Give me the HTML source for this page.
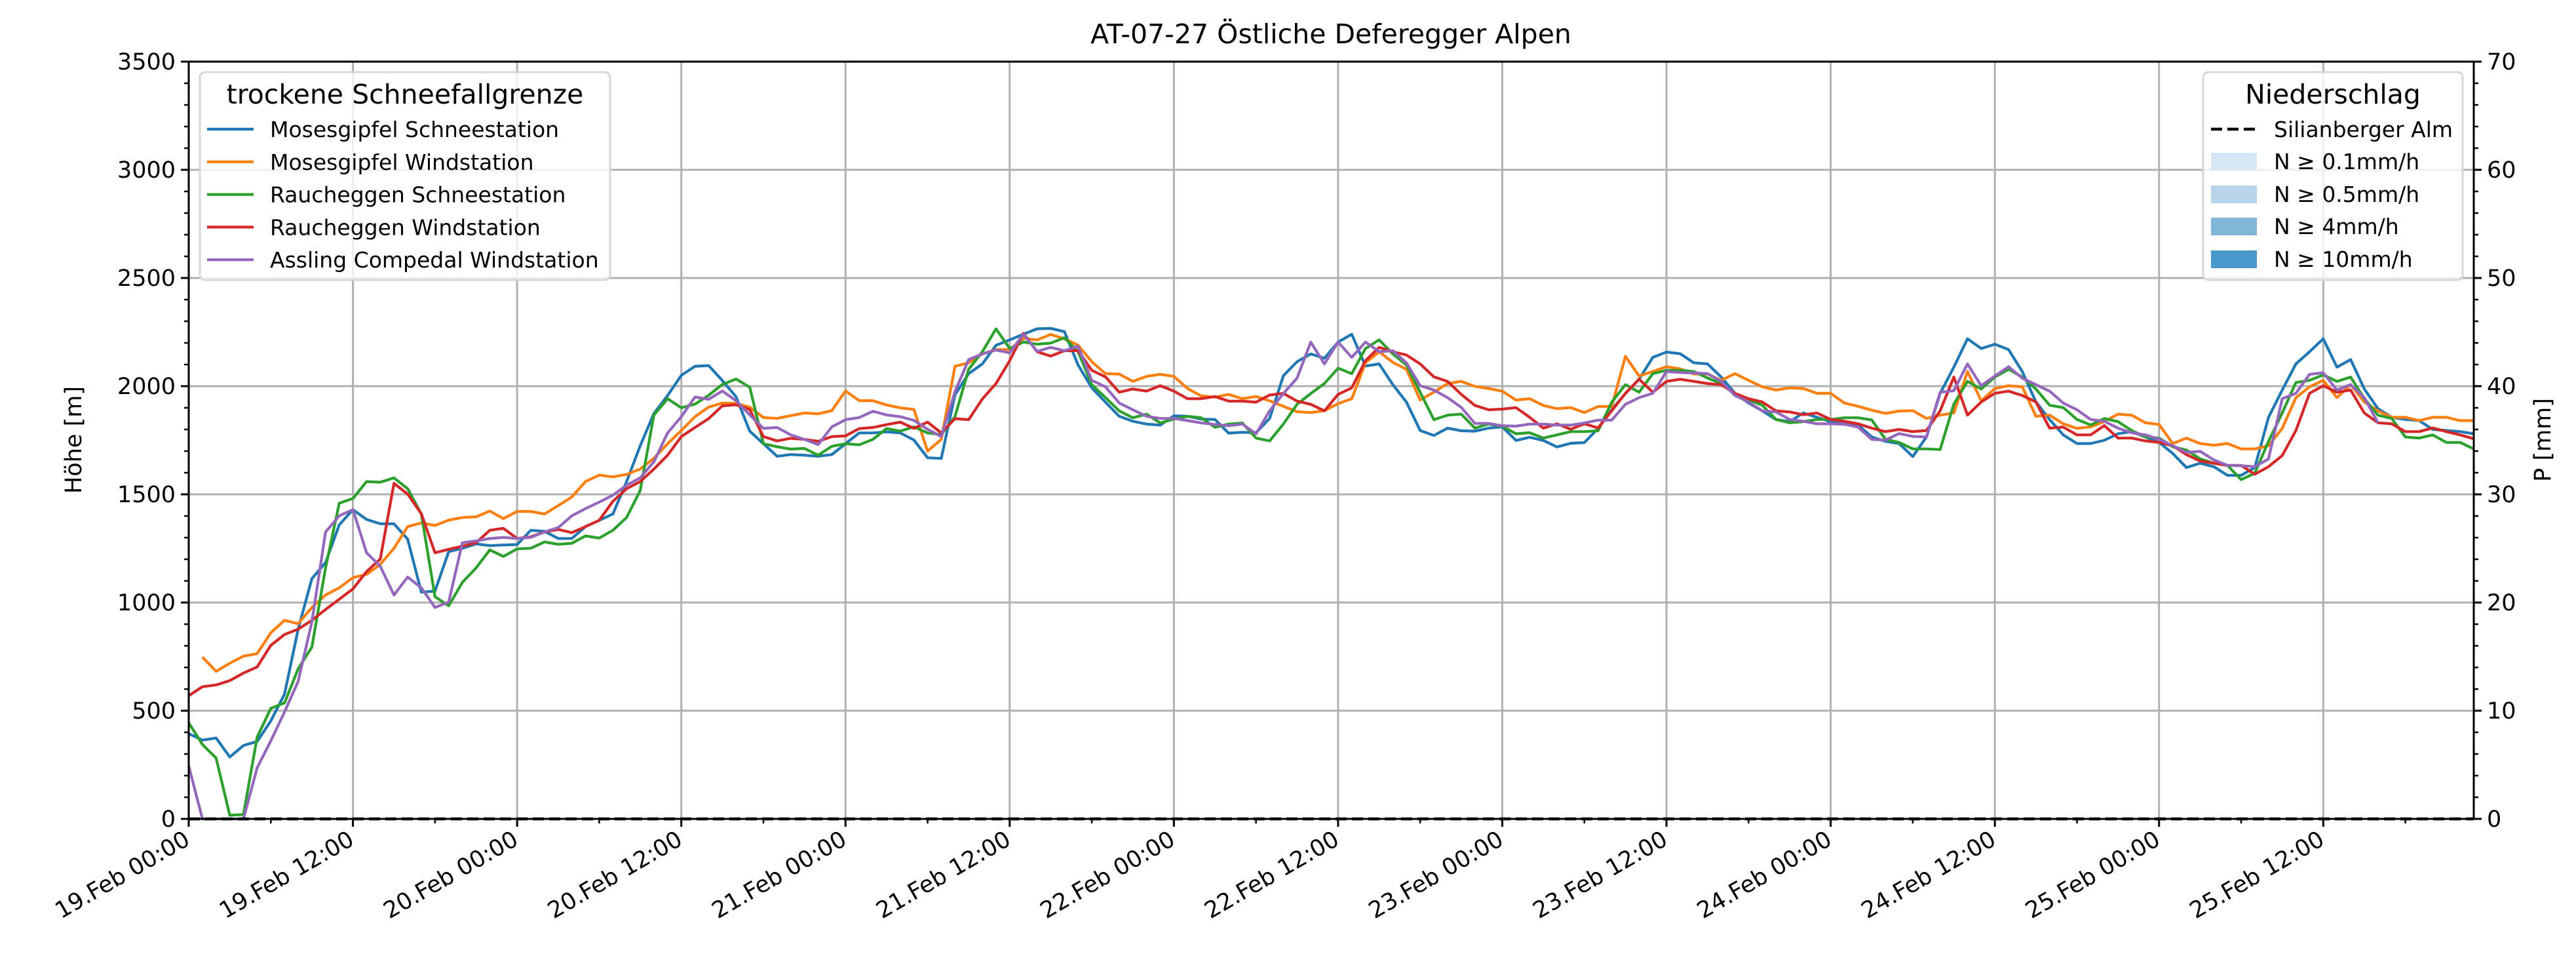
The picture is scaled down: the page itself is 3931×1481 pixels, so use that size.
<!DOCTYPE html>
<html><head><meta charset="utf-8"><style>
html,body{margin:0;padding:0;background:#fff;}
svg{display:block;font-family:"DejaVu Sans","Liberation Sans",sans-serif;}
</style></head><body>
<svg id="chart" width="3931" height="1481" viewBox="0 0 3931 1481" xmlns="http://www.w3.org/2000/svg">
<rect width="3931" height="1481" fill="#fff"/>
<g id="grid"></g>
<g id="series"></g>
<g id="axes"></g>
<text x="2031" y="66" font-size="41" text-anchor="middle">AT-07-27 Östliche Deferegger Alpen</text>
<text transform="translate(124,671) rotate(-90)" font-size="35" text-anchor="middle">Höhe [m]</text>
<text transform="translate(3892,671) rotate(-90)" font-size="35" text-anchor="middle">P [mm]</text>
<g>
<rect x="305" y="110" width="626" height="317" rx="8" fill="#fff" fill-opacity="0.8" stroke="#d6d6d6" stroke-width="3"/>
<text x="618" y="158" font-size="41" text-anchor="middle">trockene Schneefallgrenze</text>
<g id="leg1"></g>
</g>
<g>
<rect x="3362" y="110" width="396" height="317" rx="8" fill="#fff" fill-opacity="0.8" stroke="#d6d6d6" stroke-width="3"/>
<text x="3560" y="158" font-size="41" text-anchor="middle">Niederschlag</text>
<line x1="3374" y1="197" x2="3442" y2="197" stroke="#000" stroke-width="4.5" stroke-dasharray="17,8"/>
<text x="3470" y="209" font-size="33">Silianberger Alm</text>
<rect x="3374" y="233" width="70" height="27" fill="#d7e6f3"/>
<text x="3470" y="258" font-size="33">N ≥ 0.1mm/h</text>
<rect x="3374" y="283" width="70" height="27" fill="#b7d4ea"/>
<text x="3470" y="308" font-size="33">N ≥ 0.5mm/h</text>
<rect x="3374" y="332" width="70" height="27" fill="#81b6d8"/>
<text x="3470" y="357" font-size="33">N ≥ 4mm/h</text>
<rect x="3374" y="382" width="70" height="27" fill="#4a97c9"/>
<text x="3470" y="407" font-size="33">N ≥ 10mm/h</text>
</g>
</svg>
<script>
const seriesNames = ["Mosesgipfel Schneestation","Mosesgipfel Windstation","Raucheggen Schneestation","Raucheggen Windstation","Assling Compedal Windstation"];
const seriesColors = ["#1f77b4","#ff7f0e","#2ca02c","#d62728","#9467bd"];
const blue = [394,364,374,286,339,358,453,577,877,1110,1185,1359,1429,1384,1364,1364,1293,1048,1053,1235,1251,1271,1263,1266,1268,1334,1329,1296,1296,1351,1380,1409,1559,1725,1874,1957,2050,2092,2095,2026,1951,1792,1734,1676,1684,1681,1676,1684,1734,1784,1784,1789,1784,1751,1669,1666,1960,
2058,2103,2189,2214,2240,2265,2267,2252,2098,1992,1926,1861,1838,1825,1820,1863,1861,1848,1846,1783,1787,1785,1851,2048,2113,2149,2129,2204,2240,2093,2103,2007,1926,1795,1772,1806,1794,1792,1806,1812,1749,1764,1749,1719,1736,1739,1805,1891,1966,2032,2133,2158,2150,2108,2103,2042,
1967,1922,1886,1846,1836,1876,1856,1836,1828,1821,1765,1745,1735,1675,1765,1967,2088,2219,2174,2194,2169,2068,1927,1846,1775,1735,1735,1750,1780,1790,1765,1740,1689,1624,1644,1628,1588,1588,1624,1856,1982,2103,2159,2219,2088,2123,1987,1896,1856,1846,1841,1800,1795,1790,1780];
const orange = [null,748,682,719,752,764,860,918,902,977,1035,1068,1115,1130,1176,1251,1351,1368,1356,1381,1393,1396,1423,1388,1421,1421,1409,1448,1488,1559,1589,1581,1592,1617,1667,1734,1795,1859,1903,1922,1920,1903,1855,1851,1864,1876,1872,1887,1978,1933,1933,1913,1900,1892,1700,1754,2092,
2108,2149,2169,2169,2221,2214,2239,2219,2189,2113,2058,2056,2022,2045,2055,2045,1989,1955,1949,1962,1942,1952,1932,1907,1882,1878,1887,1919,1942,2108,2159,2110,2078,1936,1972,2012,2022,1999,1989,1977,1936,1942,1911,1896,1901,1878,1906,1906,2138,2047,2068,2090,2080,2056,2056,2027,
2058,2027,1997,1982,1992,1989,1967,1967,1922,1907,1889,1874,1885,1887,1851,1866,1876,2068,1932,1989,2002,1997,1861,1866,1826,1805,1812,1836,1871,1866,1831,1823,1735,1760,1735,1727,1735,1710,1710,1725,1805,1947,1997,2027,1947,2007,1927,1886,1856,1856,1841,1856,1856,1841,1841];
const green = [444,344,281,17,20,378,511,536,694,794,1160,1459,1481,1559,1556,1576,1526,1409,1027,985,1093,1160,1243,1213,1248,1251,1280,1269,1274,1308,1298,1334,1393,1518,1867,1942,1900,1917,1958,2008,2033,1995,1734,1720,1709,1712,1681,1722,1734,1729,1754,1804,1792,1812,1784,1776,1859,
2078,2159,2265,2174,2204,2194,2199,2224,2159,2007,1947,1886,1854,1871,1830,1848,1861,1854,1810,1825,1830,1760,1747,1825,1916,1966,2012,2083,2058,2174,2214,2149,2098,1972,1845,1866,1871,1806,1825,1815,1780,1785,1760,1775,1790,1790,1794,1926,2007,1972,2058,2073,2073,2068,2038,2012,
1962,1937,1912,1846,1831,1836,1846,1846,1854,1854,1844,1755,1740,1710,1710,1707,1917,2022,1987,2042,2078,2042,1987,1912,1901,1846,1821,1851,1836,1795,1765,1760,1720,1705,1664,1644,1634,1568,1598,1745,1876,2017,2027,2052,2022,2042,1942,1866,1851,1765,1760,1775,1740,1740,1710];
const red = [569,611,619,639,674,702,802,852,877,918,968,1015,1063,1143,1201,1551,1501,1410,1230,1246,1260,1276,1334,1343,1296,1304,1326,1338,1323,1351,1380,1468,1526,1559,1617,1681,1767,1809,1850,1909,1914,1892,1767,1747,1759,1754,1745,1767,1770,1804,1809,1822,1834,1805,1834,1784,1850,
1845,1941,2012,2118,2244,2159,2139,2164,2164,2073,2043,1972,1987,1977,2002,1977,1942,1942,1952,1931,1931,1926,1959,1967,1931,1916,1886,1962,1992,2118,2179,2159,2144,2103,2043,2022,1962,1911,1891,1894,1901,1856,1806,1826,1801,1826,1807,1886,1967,2032,1972,2022,2032,2022,2012,2007,
1967,1942,1927,1886,1881,1868,1876,1846,1838,1826,1806,1790,1800,1790,1795,1886,2042,1866,1927,1967,1977,1957,1927,1806,1811,1775,1775,1818,1760,1760,1747,1740,1725,1684,1654,1644,1634,1634,1593,1628,1679,1795,1967,2002,1972,1982,1876,1831,1826,1790,1790,1807,1790,1775,1757];
const purple = [245,0,0,0,0,236,361,494,636,910,1326,1401,1429,1230,1168,1035,1118,1068,977,1002,1276,1285,1296,1301,1296,1301,1326,1346,1401,1434,1464,1496,1542,1576,1651,1784,1859,1950,1939,1978,1933,1867,1805,1809,1775,1754,1730,1812,1845,1855,1884,1867,1859,1842,1801,1767,1975,
2123,2149,2167,2154,2240,2161,2179,2164,2184,2027,1997,1922,1891,1861,1851,1851,1841,1830,1823,1817,1825,1780,1886,1966,2037,2204,2103,2204,2133,2204,2159,2164,2108,2002,1982,1947,1902,1828,1828,1817,1815,1825,1825,1820,1820,1830,1843,1843,1916,1947,1967,2068,2063,2061,2058,2022,
1957,1927,1886,1881,1846,1838,1826,1826,1824,1811,1754,1751,1781,1768,1765,1972,1979,2103,2002,2047,2090,2037,2007,1977,1922,1891,1846,1838,1806,1785,1775,1755,1725,1694,1699,1659,1634,1632,1628,1664,1942,1967,2055,2062,1982,2007,1947,1831];
const precip = [0,0,0,0,0,0,0,0,0,0,0,0,0,0,0,0,0,0,0,0,0,0,0,0,0,0,0,0];
const yTicks = [0,500,1000,1500,2000,2500,3000,3500];
const y2Ticks = [0,10,20,30,40,50,60,70];
const xTickLabels = ["19.Feb 00:00","19.Feb 12:00","20.Feb 00:00","20.Feb 12:00","21.Feb 00:00","21.Feb 12:00","22.Feb 00:00","22.Feb 12:00","23.Feb 00:00","23.Feb 12:00","24.Feb 00:00","24.Feb 12:00","25.Feb 00:00","25.Feb 12:00"];

const NS="http://www.w3.org/2000/svg";
const L=288,R=3775,T=94,B=1249,TMAX=167;
const xs=t=>L+(R-L)*t/TMAX;
const ys=v=>B-(B-T)*v/3500;
const y2s=v=>B-(B-T)*v/70;
function mk(tag,attrs,parent){const e=document.createElementNS(NS,tag);for(const k in attrs)e.setAttribute(k,attrs[k]);parent.appendChild(e);return e;}
const grid=document.getElementById('grid'),axes=document.getElementById('axes'),ser=document.getElementById('series');
yTicks.forEach(v=>{const g=mk('line',{x1:L,x2:R,y1:ys(v),y2:ys(v),stroke:'#b0b0b0','stroke-width':3},grid);

});
xTickLabels.forEach((s,i)=>{const g=mk('line',{x1:xs(i*12),x2:xs(i*12),y1:T,y2:B,stroke:'#b0b0b0','stroke-width':3},grid);

});
const all=[blue,orange,green,red,purple];
all.forEach((arr,si)=>{let d='',pen=false;arr.forEach((v,t)=>{if(v===null){pen=false;return;}d+=(pen?'L':'M')+xs(t).toFixed(1)+','+ys(v).toFixed(1);pen=true;});
const p=mk('path',{d:d,fill:'none',stroke:seriesColors[si],'stroke-width':4.2,'stroke-linejoin':'round'},ser);

});
{let d='';precip.forEach((v,i)=>{d+=(i?'L':'M')+xs(i*TMAX/(precip.length-1)).toFixed(1)+','+y2s(v).toFixed(1);});
const p=mk('path',{d:d,fill:'none',stroke:'#000','stroke-width':4.5,'stroke-dasharray':'17,8'},ser);

}
const sp=mk('rect',{x:L,y:T,width:R-L,height:B-T,fill:'none',stroke:'#000','stroke-width':3},axes);


for(let v=0;v<=3500;v+=100){const major=v%500===0;mk('line',{x1:L-(major?12:7),x2:L,y1:ys(v),y2:ys(v),stroke:'#000','stroke-width':major?3:2.5},axes);
mk('line',{x1:R,x2:R+(major?12:7),y1:ys(v),y2:ys(v),stroke:'#000','stroke-width':major?3:2.5},axes);}
yTicks.forEach(v=>{const t=mk('text',{x:L-20,y:ys(v)+12,'font-size':35,'text-anchor':'end'},axes);t.textContent=v;

});
y2Ticks.forEach(v=>{const t=mk('text',{x:R+20,y:y2s(v)+12,'font-size':35},axes);t.textContent=v;

});
for(let h=0;h<=TMAX;h+=6){const major=h%12===0;mk('line',{x1:xs(h),x2:xs(h),y1:B,y2:B+(major?12:7),stroke:'#000','stroke-width':major?3:2.5},axes);}
xTickLabels.forEach((s,i)=>{const x=xs(i*12);const t=mk('text',{x:0,y:0,'font-size':35,'text-anchor':'end',transform:`translate(${x+4},${B+38}) rotate(-30)`},axes);t.textContent=s;

});
const leg=document.getElementById('leg1');
seriesNames.forEach((n,i)=>{const y=197+i*49.8;
const l=mk('line',{x1:316,x2:387,y1:y,y2:y,stroke:seriesColors[i],'stroke-width':4.2},leg);


const t=mk('text',{x:412,y:y+12,'font-size':33},leg);t.textContent=n;

});
</script>
</body></html>
